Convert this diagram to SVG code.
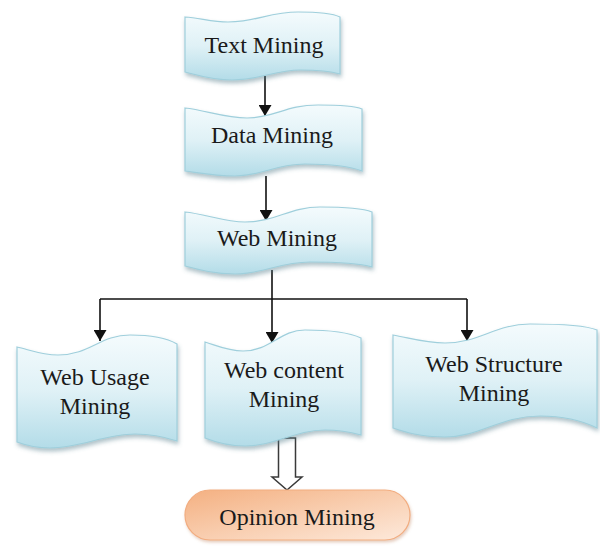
<svg xmlns="http://www.w3.org/2000/svg" width="600" height="546" viewBox="0 0 600 546">
  <style>
    .tape { fill: url(#tapeFill); stroke: #9fcfdc; stroke-width: 1.2; filter: url(#soft); }
    .label { font-family: "Liberation Serif", "Times New Roman", serif; font-size: 24px; fill: #1a1a1a; text-anchor: middle; }
    .link { fill: none; stroke: #111; stroke-width: 1.6; marker-end: url(#head); }
    .plain { fill: none; stroke: #111; stroke-width: 1.6; }
  </style>
  <defs>
    <linearGradient id="tapeFill" x1="0" y1="0" x2="0" y2="1">
      <stop offset="0" stop-color="#f4fbfd"/>
      <stop offset="0.5" stop-color="#dff1f6"/>
      <stop offset="1" stop-color="#b3dce8"/>
    </linearGradient>
    <linearGradient id="pillFill" x1="0" y1="0" x2="1" y2="1">
      <stop offset="0" stop-color="#f4b081"/>
      <stop offset="0.55" stop-color="#f9d0b3"/>
      <stop offset="1" stop-color="#fde9db"/>
    </linearGradient>
    <filter id="soft" x="-10%" y="-10%" width="120%" height="130%">
      <feDropShadow dx="1" dy="3" stdDeviation="2" flood-color="#4f7886" flood-opacity="0.45"/>
    </filter>
    <filter id="softOrange" x="-10%" y="-10%" width="120%" height="130%">
      <feDropShadow dx="1" dy="2" stdDeviation="1.5" flood-color="#b7714a" flood-opacity="0.35"/>
    </filter>
    <marker id="head" viewBox="0 0 11 13" refX="11" refY="6.5" markerWidth="11" markerHeight="13" markerUnits="userSpaceOnUse" orient="auto">
      <path d="M0,0 L11,6.5 L0,13 Z" fill="#111"/>
    </marker>
  </defs>

  <!-- connectors -->
  <g id="connectors">
    <path class="link" d="M265,76 V116"/>
    <path class="link" d="M266,176 V221"/>
    <path class="plain" d="M272,270 V299"/>
    <path class="plain" d="M100,299 H467"/>
    <path class="link" d="M100,299 V341"/>
    <path class="link" d="M272,299 V343"/>
    <path class="link" d="M467,299 V341"/>
    <path d="M278.5,438 H295.5 V477 H302 L287,490 L272,477 H278.5 Z" fill="#fff" stroke="#3a3a3a" stroke-width="1.5" stroke-linejoin="miter"/>
  </g>

  <g id="text-mining">
    <path class="tape" d="M185,17 C200,18 212,22 228,22 C255,22 270,12 298,12 C318,12 332,13 340,17 L340,74 C330,71 318,70 300,70 C275,70 260,80 232,80 C210,80 198,75 185,72 Z"/>
    <text class="label" x="264" y="53">Text Mining</text>
  </g>

  <g id="data-mining">
    <path class="tape" d="M185,108 C205,110 225,118 247,118 C275,118 285,105 318,105 C340,105 355,106 362,109 L362,171 C352,167 330,164 305,164 C275,164 262,176 235,176 C215,176 200,173 185,171 Z"/>
    <text class="label" x="272" y="143">Data Mining</text>
  </g>

  <g id="web-mining">
    <path class="tape" d="M185,212 C205,214 225,222 245,222 C275,222 290,207 320,207 C345,207 362,208 372,212 L372,267 C362,264 340,262 310,262 C280,262 262,274 235,274 C215,274 200,270 185,266 Z"/>
    <text class="label" x="277" y="246">Web Mining</text>
  </g>

  <g id="web-usage-mining">
    <path class="tape" d="M17,347 C30,350 42,355 58,355 C90,355 100,335 130,335 C150,335 165,337 177,344 L177,441 C165,437 150,434 135,434 C105,434 80,448 50,448 C35,448 25,445 17,442 Z"/>
    <text class="label" x="95" y="385">Web Usage</text>
    <text class="label" x="95" y="414">Mining</text>
  </g>

  <g id="web-content-mining">
    <path class="tape" d="M205,342 C218,346 228,351 243,351 C270,351 280,330 305,330 C330,330 348,332 361,338 L361,435 C350,432 340,430 325,430 C295,430 275,446 245,446 C228,446 215,442 205,438 Z"/>
    <text class="label" x="284" y="378">Web content</text>
    <text class="label" x="284" y="407">Mining</text>
  </g>

  <g id="web-structure-mining">
    <path class="tape" d="M393,335 C410,338 425,343 445,343 C480,343 495,324 530,324 C560,324 585,325 597,330 L597,428 C585,422 565,416 540,416 C500,416 480,437 445,437 C420,437 405,432 393,428 Z"/>
    <text class="label" x="494" y="372">Web Structure</text>
    <text class="label" x="494" y="401">Mining</text>
  </g>

  <g id="opinion-mining">
    <rect x="185" y="490" width="225" height="50" rx="25" ry="25" fill="url(#pillFill)" stroke="#f2ad80" stroke-width="1.2" filter="url(#softOrange)"/>
    <text class="label" x="297" y="525">Opinion Mining</text>
  </g>
</svg>
